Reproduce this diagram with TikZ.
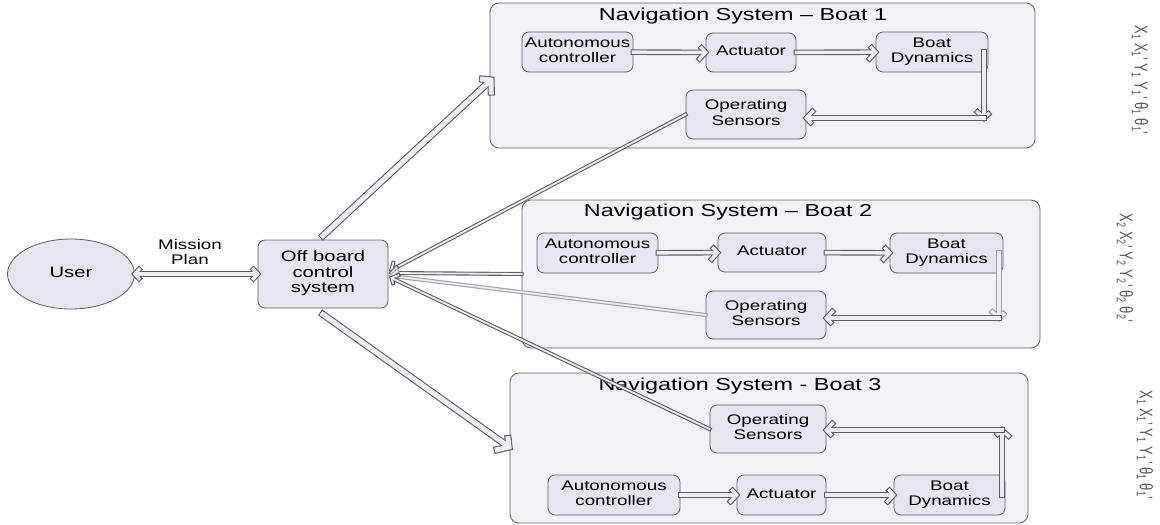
\documentclass[tikz,border=0pt]{standalone}
\usepackage{fontspec}
\setmainfont{Liberation Sans}
\usepackage{graphicx}
\usetikzlibrary{calc,shapes.geometric,decorations.markings}
\definecolor{edge}{HTML}{5E5E5E}
\definecolor{edgelt}{HTML}{A0A0A0}
\definecolor{boxfill}{HTML}{E3E7F2}
\definecolor{panelfill}{HTML}{F0F2F8}
\definecolor{arrin}{HTML}{ECEEF5}
\definecolor{vartext}{HTML}{555555}
\newcommand{\wt}[1]{\scalebox{1.35}[1]{\begin{tabular}{@{}c@{}}#1\end{tabular}}}
\newcommand{\vt}[1]{\scalebox{1}[1.4]{#1}}
\tikzset{
 dbl/.style n args={5}{draw=#1, line width=#2pt, line cap=rect, shorten >={0.5*#2pt},
   postaction={decorate, decoration={markings, mark=at position 1 with {\draw[#1, line width=#2pt, line cap=rect, line join=miter] (-#4,#5) -- (0,0) -- (-#4,-#5);}}},
   postaction={draw=arrin, line width=#3pt, line cap=rect, shorten >={0.5*#3pt}},
   postaction={decorate, decoration={markings, mark=at position 1 with {\draw[arrin, line width=#3pt, line cap=rect, line join=miter] (-#4,#5) -- (0,0) -- (-#4,-#5);}}}
 },
 dbltwo/.style n args={5}{draw=#1, line width=#2pt, line cap=rect, shorten >={0.5*#2pt}, shorten <={0.5*#2pt},
   postaction={decorate, decoration={markings,
     mark=at position 0 with {\draw[#1, line width=#2pt, line cap=rect, line join=miter] (#4,#5) -- (0,0) -- (#4,-#5);},
     mark=at position 1 with {\draw[#1, line width=#2pt, line cap=rect, line join=miter] (-#4,#5) -- (0,0) -- (-#4,-#5);}}},
   postaction={draw=arrin, line width=#3pt, line cap=rect, shorten >={0.5*#3pt}, shorten <={0.5*#3pt}},
   postaction={decorate, decoration={markings,
     mark=at position 0 with {\draw[arrin, line width=#3pt, line cap=rect, line join=miter] (#4,#5) -- (0,0) -- (#4,-#5);},
     mark=at position 1 with {\draw[arrin, line width=#3pt, line cap=rect, line join=miter] (-#4,#5) -- (0,0) -- (-#4,-#5);}}}
 }
}
\begin{document}
\begin{tikzpicture}[x=1pt,y=-1pt,
 blk/.style={draw=edge, fill=boxfill, rounded corners=7pt, line width=0.8pt, inner sep=0pt, font=\fontsize{13.9}{15.5}\selectfont},
 panel/.style={draw=edge, fill=panelfill, rounded corners=9pt, line width=0.8pt, inner sep=0pt},
 ttl/.style={font=\fontsize{17.3}{19}\selectfont, inner sep=0pt},
 darr/.style={dbl={edge}{5.6}{3.4}{6}{6.5}},
 darrlt/.style={dbl={edgelt}{5.6}{3.4}{6}{6.5}},
 bigarr/.style={dbl={edge}{7.2}{5}{8}{9}},
 link/.style={dbl={edge}{4}{1.8}{5}{5.5}},
 linklt/.style={dbl={edgelt}{4}{1.8}{5}{5.5}},
 vars/.style={rotate=-90, font=\fontsize{13}{15}\selectfont, inner sep=0pt, text=vartext}
]
\useasboundingbox (0,0) rectangle (1160,525);

% panels
\node[panel, minimum width=545pt, minimum height=145pt] (p1) at (762.5,75.5) {};
\node[panel, minimum width=518pt, minimum height=148pt] (p2) at (781,274) {};
\node[panel, minimum width=518pt, minimum height=150pt] (p3) at (769,448) {};
\node[ttl] (t1) at (743,17) {\wt{Navigation System – Boat 1}};
\node[ttl] (t2) at (728,213) {\wt{Navigation System – Boat 2}};
\node[ttl] (t3) at (740,387) {\wt{Navigation System - Boat 3}};

% user and off board
\node[draw=edge, fill=boxfill, ellipse, line width=0.8pt, minimum width=127pt, minimum height=70pt, inner sep=0pt, font=\fontsize{15}{16.5}\selectfont] (user) at (71,274) {\wt{User}};
\node[blk, minimum width=130pt, minimum height=68pt, font=\fontsize{15}{15.5}\selectfont] (offb) at (323,274) {\wt{Off board\\control\\system}};
\node[inner sep=0pt, font=\fontsize{13.9}{15.5}\selectfont] (mp) at (190,254) {\wt{Mission\\Plan}};
\draw[dbltwo={edge}{5.6}{3.4}{6}{6.5}] (user) -- (offb);

% boat 1
\node[blk, minimum width=111pt, minimum height=40pt] (ac1) at (577.5,52) {\wt{Autonomous\\controller}};
\node[blk, minimum width=90pt, minimum height=39pt] (act1) at (751,52.5) {\wt{Actuator}};
\node[blk, minimum width=112pt, minimum height=40pt] (bd1) at (932,52) {\wt{Boat\\Dynamics}};
\node[blk, minimum width=120pt, minimum height=49pt] (os1) at (746,114.5) {\wt{Operating\\Sensors}};
\coordinate (c1) at (984,118);
\draw[darr] (ac1) -- (act1);
\draw[darr] (act1) -- (bd1);
\draw[darr] (bd1.east -| c1) -- (c1);
\draw[darr] (c1) -- (os1.east |- c1);

% boat 2
\node[blk, minimum width=121pt, minimum height=40pt] (ac2) at (597.5,253) {\wt{Autonomous\\controller}};
\node[blk, minimum width=108pt, minimum height=39pt] (act2) at (772,252.5) {\wt{Actuator}};
\node[blk, minimum width=113pt, minimum height=40pt] (bd2) at (946.5,253) {\wt{Boat\\Dynamics}};
\node[blk, minimum width=120pt, minimum height=48pt] (os2) at (766,315) {\wt{Operating\\Sensors}};
\coordinate (c2) at (999,318);
\draw[darr] (ac2) -- (act2);
\draw[darr] (act2) -- (bd2);
\draw[darrlt] (bd2.east -| c2) -- (c2);
\draw[darr] (c2) -- (os2.east |- c2);

% boat 3
\node[blk, minimum width=116pt, minimum height=48pt] (os3) at (768,429) {\wt{Operating\\Sensors}};
\node[blk, minimum width=132pt, minimum height=40pt] (ac3) at (614,495) {\wt{Autonomous\\controller}};
\node[blk, minimum width=89pt, minimum height=40pt] (act3) at (781.5,495) {\wt{Actuator}};
\node[blk, minimum width=111pt, minimum height=40pt] (bd3) at (949.5,495) {\wt{Boat\\Dynamics}};
\coordinate (c3) at (1002,430);
\draw[darr] (ac3) -- (act3);
\draw[darr] (act3) -- (bd3);
\draw[darr] (bd3.east -| c3) -- (c3);
\draw[darr] (c3) -- (os3.east |- c3);

% fan arrows from off board system
\coordinate (f1s) at ($(offb.north)+(0,-4)$);
\coordinate (f1e) at (491,80);
\coordinate (f3s) at ($(offb.south)+(0,6)$);
\coordinate (f3e) at (509,447);
\draw[bigarr] (f1s) -- (f1e);
\draw[bigarr] (f3s) -- (f3e);

% links back to off board system
\coordinate (i1) at ($(offb.east)+(3,-4)$);
\coordinate (i2) at ($(offb.east)+(3,-1)$);
\coordinate (i3) at ($(offb.east)+(3,2)$);
\coordinate (i4) at ($(offb.east)+(3,4)$);
\draw[link] (os1.west) -- (i1);
\draw[link] (p2.west) -- (i2);
\draw[linklt] (os2.west) -- (i3);
\draw[link] (os3.west) -- (i4);

% state variables
\node[vars] (v1) at (1140,80) {\vt{X\textsubscript{1} X\textsubscript{1}' Y\textsubscript{1} Y\textsubscript{1}' θ\textsubscript{1} θ\textsubscript{1}'}};
\node[vars] (v2) at (1125,268) {\vt{X\textsubscript{2} X\textsubscript{2}' Y\textsubscript{2} Y\textsubscript{2}' θ\textsubscript{2} θ\textsubscript{2}'}};
\node[vars] (v3) at (1145,445) {\vt{X\textsubscript{1} X\textsubscript{1}' Y\textsubscript{1} Y\textsubscript{1}' θ\textsubscript{1} θ\textsubscript{1}'}};
\end{tikzpicture}
\end{document}
